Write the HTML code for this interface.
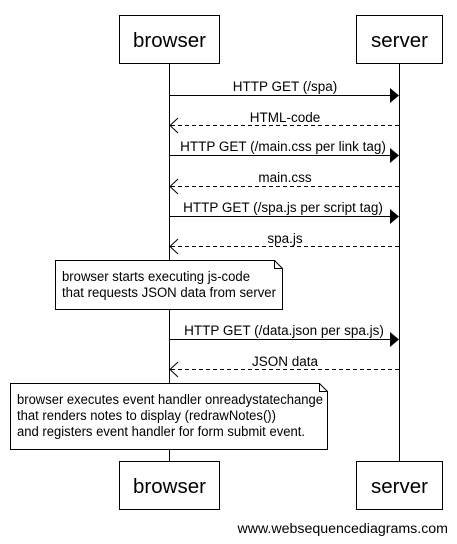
<!DOCTYPE html>
<html><head><meta charset="utf-8"><style>
html,body{margin:0;padding:0;background:#fff;width:457px;height:544px;overflow:hidden}
text{font-family:"Liberation Sans",Arial,sans-serif;fill:#000}
</style></head><body>
<svg width="457" height="544" viewBox="0 0 457 544" xmlns="http://www.w3.org/2000/svg">
<g stroke="#000" stroke-width="1" fill="none">
<line x1="169.5" y1="63" x2="169.5" y2="461"/>
<line x1="399.5" y1="63" x2="399.5" y2="461"/>
<rect x="119.5" y="15.5" width="100" height="48" fill="#fff"/>
<rect x="356.5" y="15.5" width="86" height="48" fill="#fff"/>
<rect x="119.5" y="461.5" width="100" height="48" fill="#fff"/>
<rect x="356.5" y="461.5" width="86" height="48" fill="#fff"/>
<line x1="169.5" y1="95.5" x2="391" y2="95.5"/>
<line x1="169.5" y1="155.5" x2="391" y2="155.5"/>
<line x1="169.5" y1="216.5" x2="391" y2="216.5"/>
<line x1="169.5" y1="339.5" x2="391" y2="339.5"/>
<g stroke-dasharray="4,3">
<line x1="171" y1="125.5" x2="399" y2="125.5"/>
<line x1="171" y1="186.5" x2="399" y2="186.5"/>
<line x1="171" y1="246.5" x2="399" y2="246.5"/>
<line x1="171" y1="369.5" x2="399" y2="369.5"/>
</g>
<polyline points="178,118 170,125.5 178,133"/>
<polyline points="178,179 170,186.5 178,194"/>
<polyline points="178,239 170,246.5 178,254"/>
<polyline points="178,362 170,369.5 178,377"/>
<path d="M55.5 260.5 H274.5 L282.5 268.5 V309.5 H55.5 Z" fill="#fff"/>
<polyline points="274.5,260.5 274.5,268.5 282.5,268.5"/>
<path d="M10.5 383.5 H319.5 L327.5 391.5 V449.5 H10.5 Z" fill="#fff"/>
<polyline points="319.5,383.5 319.5,391.5 327.5,391.5"/>
</g>
<g fill="#000">
<polygon points="390,88 399,95.5 390,103"/>
<polygon points="390,148 399,155.5 390,163"/>
<polygon points="390,209 399,216.5 390,224"/>
<polygon points="390,332 399,339.5 390,347"/>
</g>
<g font-size="20.5" text-anchor="middle">
<text x="169.5" y="47">browser</text>
<text x="399.5" y="47">server</text>
<text x="169.5" y="493">browser</text>
<text x="399.5" y="493">server</text>
</g>
<g font-size="13.5" text-anchor="middle">
<text x="285" y="91">HTTP GET (/spa)</text>
<text x="285" y="122">HTML-code</text>
<text x="283" y="151">HTTP GET (/main.css per link tag)</text>
<text x="285" y="182">main.css</text>
<text x="283" y="212">HTTP GET (/spa.js per script tag)</text>
<text x="285" y="243">spa.js</text>
<text x="284" y="335">HTTP GET (/data.json per spa.js)</text>
<text x="285" y="366">JSON data</text>
</g>
<g font-size="13.5">
<text x="62" y="281" textLength="188" lengthAdjust="spacingAndGlyphs">browser starts executing js-code</text>
<text x="62" y="297" textLength="214" lengthAdjust="spacingAndGlyphs">that requests JSON data from server</text>
<text x="17" y="404" textLength="306" lengthAdjust="spacingAndGlyphs">browser executes event handler onreadystatechange</text>
<text x="17" y="420" textLength="259" lengthAdjust="spacingAndGlyphs">that renders notes to display (redrawNotes())</text>
<text x="17" y="436" textLength="288" lengthAdjust="spacingAndGlyphs">and registers event handler for form submit event.</text>
</g>
<text x="448" y="533" font-size="14.2" text-anchor="end">www.websequencediagrams.com</text>
</svg>
</body></html>
